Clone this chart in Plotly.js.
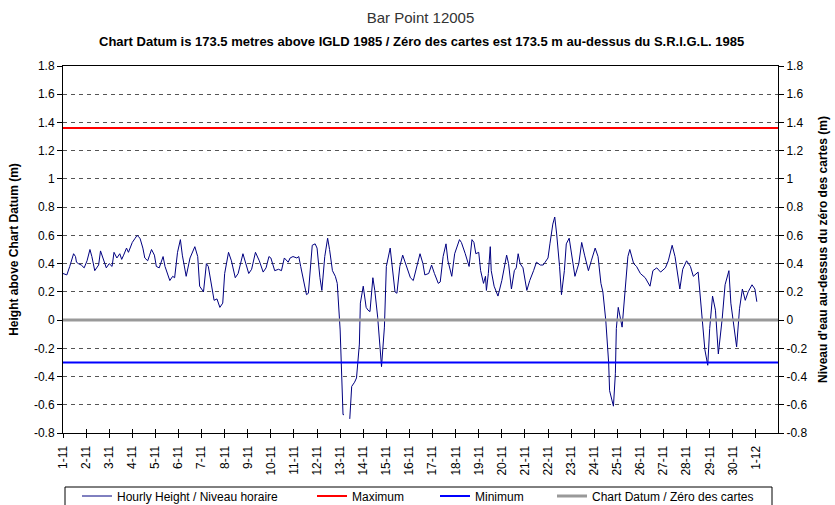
<!DOCTYPE html>
<html><head><meta charset="utf-8">
<script src="https://cdn.plot.ly/plotly-3.0.1.min.js"></script>
<style>html,body{margin:0;padding:0;background:#fff}#chart{width:835px;height:505px}</style>
</head><body><div id="chart"></div>
<script>
// ---- data ----
const startDate = '2005-11-01';
const axisEndHours = 743; // axis runs to 1-12 at 23:00
const hourOffsets = [0,4,7,11,13,14,16,19,22,25,28,30,33,37,39,41,43,45,48,51,53,56,59,61,63,66,68,70,72,75,77,80,83,85,88,90,92,95,97,100,102,104,106,108,111,114,116,119,122,124,128,132,137,140,142,146,149,151,155,157,160,163,166,168,172,175,179,182,187,193,196,200,204,208,211,214,216,220,224,227,230,234,236,239,243,245,247,250,253,255,257,259,262,264,267,269,272,275,277,280,283,285,288,289,290,291,292,294,298,300,303,305,308,309,312,315,317,319,322,324,327,329,331,334,336,340,342,345,347,350,353,357,361,364,368,371,374,376,380,383,386,390,392,395,398,400,404,407,412,414,418,422,425,427,429,432,434,437,439,440,442,444,445,448,452,456,461,463,466,469,471,473,475,478,482,485,489,492,496,499,501,504,506,509,511,513,516,518,521,523,526,529,532,536,539,542,546,549,553,556,559,561,564,567,568,572,574,575,577,581,584,587,589,593,596,600,605,610,613,617,621,626,629,633,636,641,644,648,652,655,660,664,667,670,672,675,678,681,685,688,692,694,697,700,703,706,709,712,716,719,721];
const hourlyHeight = [0.33,0.32,0.38,0.47,0.45,0.41,0.40,0.39,0.37,0.42,0.50,0.45,0.35,0.39,0.49,0.45,0.40,0.37,0.40,0.38,0.48,0.44,0.47,0.43,0.46,0.51,0.48,0.52,0.55,0.58,0.60,0.58,0.51,0.44,0.42,0.46,0.50,0.46,0.38,0.37,0.41,0.45,0.38,0.34,0.28,0.31,0.30,0.48,0.57,0.46,0.31,0.44,0.52,0.45,0.24,0.20,0.40,0.38,0.21,0.14,0.15,0.09,0.12,0.33,0.48,0.42,0.30,0.33,0.47,0.33,0.36,0.48,0.42,0.34,0.37,0.45,0.44,0.35,0.36,0.35,0.44,0.41,0.44,0.45,0.44,0.45,0.38,0.28,0.18,0.19,0.38,0.53,0.54,0.51,0.30,0.21,0.45,0.58,0.50,0.35,0.31,0.26,-0.07,-0.31,-0.47,-0.67,-0.67,null,-0.70,-0.47,-0.44,-0.41,-0.17,0.12,0.24,0.09,0.07,0.06,0.30,0.21,0.02,-0.19,-0.33,-0.05,0.38,0.51,0.40,0.20,0.19,0.38,0.46,0.38,0.30,0.28,0.40,0.47,0.40,0.32,0.33,0.39,0.33,0.26,0.27,0.45,0.54,0.42,0.31,0.47,0.57,0.55,0.47,0.38,0.57,0.55,0.47,0.48,0.35,0.26,0.31,0.21,0.33,0.52,0.35,0.24,0.17,0.28,0.46,0.40,0.22,0.35,0.37,0.47,0.40,0.37,0.21,0.28,0.35,0.41,0.39,0.39,0.41,0.44,0.54,0.68,0.73,0.61,0.38,0.18,0.35,0.54,0.58,0.45,0.31,0.40,0.55,0.46,0.35,0.42,0.51,0.45,0.26,0.20,0.00,-0.30,-0.50,-0.61,-0.38,-0.06,0.09,-0.05,0.19,0.45,0.50,0.40,0.38,0.33,0.30,0.24,0.35,0.37,0.34,0.37,0.42,0.53,0.45,0.22,0.36,0.42,0.38,0.31,0.34,0.05,-0.21,-0.32,-0.06,0.17,0.07,-0.24,0.01,0.25,0.35,0.12,-0.05,-0.19,0.08,0.22,0.14,0.20,0.25,0.22,0.13];
const maximumLevel = 1.36;
const minimumLevel = -0.30;
const chartDatumLevel = 0;
const yTickValues = [-0.8,-0.6,-0.4,-0.2,0,0.2,0.4,0.6,0.8,1,1.2,1.4,1.6,1.8];
const yTickLabels = ['-0.8','-0.6','-0.4','-0.2','0','0.2','0.4','0.6','0.8','1','1.2','1.4','1.6','1.8'];
const seriesNames = ['Hourly Height / Niveau horaire','Maximum','Minimum','Chart Datum / Zéro des cartes'];

// ---- helpers ----
const baseMs = Date.parse(startDate + 'T00:00:00Z');
function hoursToDate(h){ return new Date(baseMs + h*3600000).toISOString().slice(0,16).replace('T',' '); }
const xDates = hourOffsets.map(hoursToDate);
const xStart = hoursToDate(0), xEnd = hoursToDate(axisEndHours);
const span = [xStart, xEnd];

const font = 'Liberation Sans, Arial, sans-serif';
const traces = [
  {x:xDates, y:hourlyHeight, name:seriesNames[0], type:'scatter', mode:'lines', connectgaps:false,
   line:{color:'#000080', width:1}, legend:'legend', hoverinfo:'x+y'},
  {x:span, y:[maximumLevel,maximumLevel], name:seriesNames[1], type:'scatter', mode:'lines',
   line:{color:'#ff0000', width:2}, legend:'legend2'},
  {x:span, y:[minimumLevel,minimumLevel], name:seriesNames[2], type:'scatter', mode:'lines',
   line:{color:'#0000ff', width:2}, legend:'legend3'},
  {x:span, y:[chartDatumLevel,chartDatumLevel], name:seriesNames[3], type:'scatter', mode:'lines',
   line:{color:'#999999', width:3}, legend:'legend4', xaxis:'x2', yaxis:'y2'}
];

const W = 835, H = 505, L = 63, R = 57, T = 66, B = 72;
const pw = W - L - R, ph = H - T - B;
const px = v => (v - L) / pw;        // pixel x -> paper x
const py = v => (H - B - v) / ph;    // pixel y -> paper y
const cx = v => v / W;               // pixel x -> container x
const cy = v => 1 - v / H;           // pixel y -> container y
const legendBase = {orientation:'h', bgcolor:'rgba(0,0,0,0)', borderwidth:0,
  font:{family:font, size:12, color:'#000'}, xref:'container', yref:'container',
  xanchor:'left', yanchor:'middle', y:cy(496), itemclick:false};

const yCommon = {range:[-0.8,1.8], autorange:false, tickmode:'array', tickvals:yTickValues, ticktext:yTickLabels,
  ticks:'outside', ticklen:5, tickcolor:'#000', showline:true, linecolor:'#000', linewidth:1, zeroline:false,
  tickfont:{family:font, size:12, color:'#000'}, fixedrange:true, automargin:false};

const layout = {
  width:W, height:H, margin:{l:L, r:R, t:T, b:B, pad:0, autoexpand:false},
  paper_bgcolor:'#fff', plot_bgcolor:'#fff', font:{family:font, size:12, color:'#000'},
  title:{text:'Bar Point 12005', font:{family:font, size:15, color:'#333'}, x:0.5, xref:'paper', xanchor:'center',
         y:1 - 18/H, yref:'container', yanchor:'middle'},
  annotations:[{text:'<b>Chart Datum is 173.5 metres above IGLD 1985 / Zéro des cartes est 173.5 m au-dessus du S.R.I.G.L. 1985</b>',
    xref:'paper', yref:'paper', x:px(421), y:py(42), xanchor:'center', yanchor:'middle', showarrow:false,
    font:{family:font, size:13, color:'#000'}}],
  xaxis:{type:'date', range:span, autorange:false, tickmode:'linear', tick0:xStart, dtick:86400000,
    tickformat:'%-d-%-m', tickangle:-90, ticks:'outside', ticklen:4, tickcolor:'#000', showline:true, mirror:true,
    linecolor:'#000', linewidth:1, showgrid:false, zeroline:false, ticklabelstandoff:3, automargin:false,
    tickfont:{family:font, size:12, color:'#000'}, fixedrange:true},
  xaxis2:{type:'date', range:span, autorange:false, overlaying:'x', anchor:'y2', tickmode:'linear', tick0:xStart,
    dtick:86400000, ticks:'inside', ticklen:4, tickcolor:'#000', showticklabels:false, showline:false,
    showgrid:false, zeroline:false, fixedrange:true, automargin:false},
  yaxis:Object.assign({}, yCommon, {side:'left', showgrid:true, gridcolor:'#555', gridwidth:1, griddash:'4px,4px',
    title:{text:'<b>Height above Chart Datum (m)</b>', font:{family:font, size:12, color:'#000'}, standoff:12}}),
  yaxis2:Object.assign({}, yCommon, {side:'right', overlaying:'y', anchor:'x2', showgrid:false,
    title:{text:'<b>Niveau d\'eau au-dessus du zéro des cartes (m)</b>', font:{family:font, size:12, color:'#000'}, standoff:12}}),
  legend: Object.assign({}, legendBase, {x:cx(85 - 8)}),
  legend2:Object.assign({}, legendBase, {x:cx(320 - 8)}),
  legend3:Object.assign({}, legendBase, {x:cx(443 - 8)}),
  legend4:Object.assign({}, legendBase, {x:cx(560 - 8)}),
  shapes:[{type:'rect', xref:'paper', yref:'paper', x0:px(65), x1:px(772), y0:py(487), y1:py(520),
    line:{color:'#000', width:1}, fillcolor:'rgba(0,0,0,0)', layer:'above'}],
  showlegend:true
};
Plotly.newPlot('chart', traces, layout, {displayModeBar:false, staticPlot:true});
</script></body></html>
